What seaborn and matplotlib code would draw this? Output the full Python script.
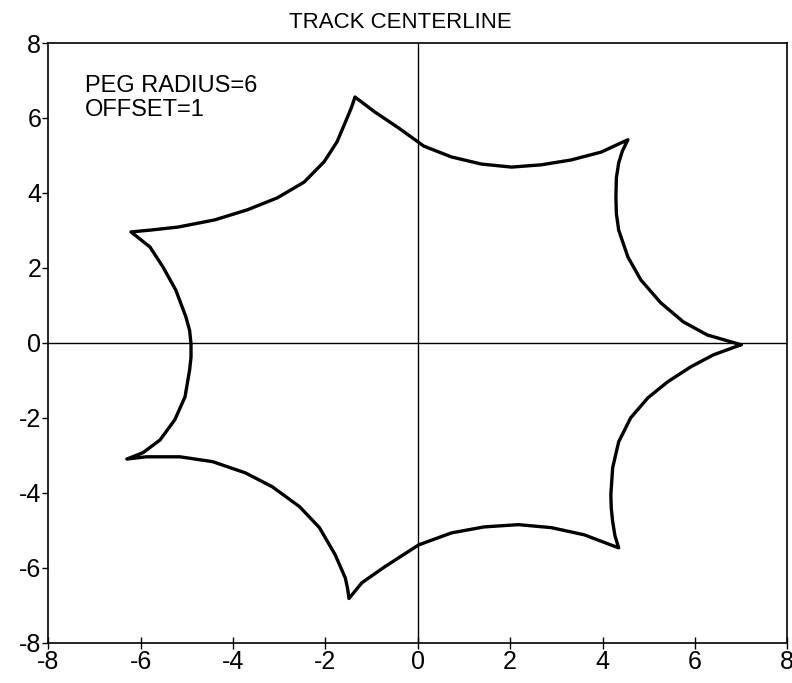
"""
Track centerline plot: peg radius 6, offset 1.
Closed 7-cusp curve traced from the reference figure.
"""

import matplotlib
matplotlib.use("Agg")
import matplotlib.pyplot as plt
import seaborn as sns
import pandas as pd

# points along the centerline, counterclockwise from the right-hand cusp
track_x = [
    7.00, 6.27, 5.75, 5.26, 4.83, 4.55, 4.35, 4.30, 4.29, 4.30, 4.35, 4.43, 4.55,
    3.97, 3.32, 2.67, 2.03, 1.38, 0.73, 0.13, -0.41, -0.93, -1.36,
    -1.43, -1.53, -1.75, -2.03, -2.46, -3.04, -3.69, -4.40, -5.19, -5.78, -6.21,
    -5.80, -5.52, -5.24, -5.02, -4.94, -4.91, -4.91, -4.94, -5.04, -5.26, -5.58, -5.95, -6.30,
    -5.88, -5.15, -4.44, -3.73, -3.15, -2.56, -2.13, -1.79, -1.57, -1.52, -1.49,
    -1.21, -0.71, 0.02, 0.73, 1.44, 2.18, 2.89, 3.60, 4.35,
    4.27, 4.22, 4.19, 4.18, 4.22, 4.35, 4.61, 4.98, 5.41, 5.91, 6.40, 7.00,
]
track_y = [
    -0.05, 0.21, 0.56, 1.07, 1.68, 2.29, 3.01, 3.45, 3.89, 4.40, 4.80, 5.12, 5.42,
    5.09, 4.88, 4.75, 4.69, 4.77, 4.96, 5.25, 5.73, 6.16, 6.56,
    6.30, 6.00, 5.36, 4.83, 4.29, 3.87, 3.55, 3.28, 3.09, 3.01, 2.96,
    2.56, 2.03, 1.41, 0.69, 0.33, -0.03, -0.38, -0.72, -1.44, -2.05, -2.59, -2.93, -3.10,
    -3.04, -3.04, -3.17, -3.47, -3.84, -4.37, -4.93, -5.65, -6.27, -6.55, -6.82,
    -6.40, -5.97, -5.39, -5.07, -4.91, -4.85, -4.93, -5.12, -5.47,
    -5.15, -4.77, -4.42, -4.05, -3.33, -2.64, -2.00, -1.47, -1.04, -0.64, -0.32, -0.05,
]
tick_values = [-8, -6, -4, -2, 0, 2, 4, 6, 8]
peg_radius = 6
offset = 1


def main():
    sns.set_style("ticks")
    plt.rcParams["font.family"] = ["Liberation Sans", "DejaVu Sans"]
    plt.rcParams["axes.unicode_minus"] = False
    plt.rcParams["text.color"] = "black"

    df = pd.DataFrame({"x": track_x, "y": track_y})

    fig = plt.figure(figsize=(7.92, 6.83), dpi=100)
    ax = fig.add_axes([0.061, 0.059, 0.933, 0.878])

    # reference axes through the origin
    ax.axhline(0, color="black", lw=1.0, zorder=1)
    ax.axvline(0, color="black", lw=1.0, zorder=1)

    sns.lineplot(data=df, x="x", y="y", sort=False, estimator=None,
                 color="black", lw=2.4, ax=ax, zorder=3)

    ax.set_xlim(-8, 8)
    ax.set_ylim(-8, 8)
    ax.set_xticks(tick_values)
    ax.set_yticks(tick_values)
    ax.set_xticklabels([str(v) for v in tick_values])
    ax.set_yticklabels([str(v) for v in tick_values])
    ax.tick_params(axis="x", direction="inout", length=8, width=1.0,
                   labelsize=18, pad=1, colors="black")
    ax.tick_params(axis="y", direction="out", length=4, width=1.0,
                   labelsize=18, pad=1, colors="black")
    ax.set_xlabel("")
    ax.set_ylabel("")

    for side in ["left", "right", "top", "bottom"]:
        ax.spines[side].set_visible(True)
        ax.spines[side].set_color("black")
        ax.spines[side].set_linewidth(1.2)

    ax.text(-7.2, 7.15, f"PEG RADIUS={peg_radius}\nOFFSET={offset}",
            fontsize=17, va="top", ha="left", linespacing=1.1, color="black")
    fig.text(400 / 792, 1 - 22 / 683, "TRACK CENTERLINE",
             fontsize=16, ha="center", va="center", color="black")

    fig.savefig("out.png", dpi=100)
    print("Done.")


if __name__ == "__main__":
    main()
